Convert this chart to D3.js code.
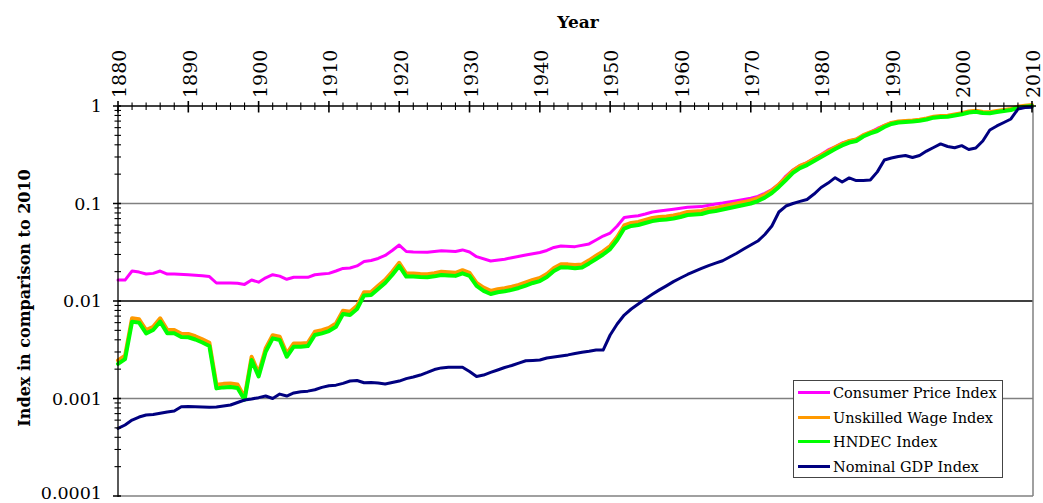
<!DOCTYPE html>
<html><head><meta charset="utf-8">
<script src="https://cdn.jsdelivr.net/npm/d3@7"></script>
<style>body{margin:0;background:#fff}svg{display:block}text{font-family:"DejaVu Serif",serif;fill:#000}</style>
</head><body><svg id="c" width="1043" height="503"></svg>
<script>
const seriesNames = ["Consumer Price Index","Unskilled Wage Index","HNDEC Index","Nominal GDP Index"];
const seriesColors = ["#FF00FF","#FF9900","#00FF00","#000080"];
const xTickYears = [1880,1890,1900,1910,1920,1930,1940,1950,1960,1970,1980,1990,2000,2010];
const yTickValues = [1,0.1,0.01,0.001,0.0001];
const yTickLabels = ["1","0.1","0.01","0.001","0.0001"];
const xTitle = "Year";
const yTitle = "Index in comparison to 2010";

const cpi = [[1880,0.0164],[1881,0.0164],[1882,0.0203],[1883,0.0198],[1884,0.0189],[1885,0.0192],[1886,0.0203],[1887,0.0189],[1888,0.0189],[1890,0.0186],[1892,0.0182],[1893,0.0178],[1894,0.0153],[1896,0.0153],[1897,0.0152],[1898,0.0148],[1899,0.0164],[1900,0.0156],[1901,0.0173],[1902,0.0186],[1903,0.0180],[1904,0.0167],[1905,0.0175],[1907,0.0175],[1908,0.0186],[1909,0.0189],[1910,0.0192],[1911,0.0203],[1912,0.0216],[1913,0.0218],[1914,0.0229],[1915,0.0254],[1916,0.0260],[1917,0.0273],[1918,0.0293],[1919,0.0330],[1920,0.0375],[1921,0.0322],[1922,0.0318],[1924,0.0317],[1926,0.0328],[1928,0.0322],[1929,0.0334],[1930,0.0318],[1931,0.0285],[1933,0.0257],[1935,0.0268],[1936,0.0278],[1938,0.0296],[1940,0.0314],[1941,0.0330],[1942,0.0354],[1943,0.0367],[1945,0.0361],[1947,0.0385],[1948,0.0422],[1949,0.0464],[1950,0.0498],[1951,0.0588],[1952,0.0719],[1953,0.0736],[1954,0.0750],[1955,0.0780],[1956,0.0818],[1957,0.0837],[1959,0.0872],[1961,0.0914],[1963,0.0929],[1965,0.0989],[1966,0.101],[1968,0.107],[1970,0.113],[1971,0.118],[1972,0.127],[1973,0.139],[1974,0.158],[1975,0.191],[1976,0.221],[1977,0.245],[1978,0.263],[1979,0.290],[1980,0.318],[1981,0.354],[1982,0.382],[1983,0.417],[1984,0.438],[1985,0.456],[1986,0.498],[1987,0.541],[1988,0.588],[1989,0.631],[1990,0.674],[1992,0.702],[1994,0.713],[1996,0.766],[1998,0.790],[2000,0.828],[2001,0.858],[2002,0.868],[2003,0.842],[2004,0.848],[2006,0.895],[2008,0.947],[2009,0.970],[2010,1.0]];

const wage = [[1880,0.00240],[1881,0.00268],[1882,0.00650],[1883,0.00635],[1884,0.00492],[1885,0.00530],[1886,0.00648],[1887,0.00494],[1888,0.00492],[1889,0.00450],[1890,0.00448],[1891,0.00425],[1892,0.00395],[1893,0.00364],[1894,0.00135],[1895,0.00138],[1896,0.00139],[1897,0.00136],[1898,0.00100],[1899,0.00262],[1900,0.00177],[1901,0.00318],[1902,0.00436],[1903,0.00420],[1904,0.00282],[1905,0.00358],[1906,0.00358],[1907,0.00363],[1908,0.00472],[1909,0.00491],[1910,0.00518],[1911,0.00574],[1912,0.00775],[1913,0.00758],[1914,0.00872],[1915,0.0120],[1916,0.0121],[1917,0.0140],[1918,0.0161],[1919,0.0195],[1920,0.0241],[1921,0.0187],[1922,0.0187],[1923,0.0185],[1924,0.0184],[1925,0.0188],[1926,0.0195],[1927,0.0193],[1928,0.0190],[1929,0.0202],[1930,0.0190],[1931,0.0150],[1932,0.0134],[1933,0.0124],[1934,0.0129],[1935,0.0132],[1936,0.0137],[1937,0.0143],[1938,0.0152],[1939,0.0161],[1940,0.0168],[1941,0.0185],[1942,0.0213],[1943,0.0233],[1944,0.0232],[1945,0.0228],[1946,0.0232],[1947,0.0255],[1948,0.0284],[1949,0.0315],[1950,0.0358],[1951,0.0443],[1952,0.0582],[1953,0.0617],[1954,0.0632],[1955,0.0662],[1956,0.0693],[1957,0.0711],[1958,0.0720],[1959,0.0737],[1960,0.0763],[1961,0.0800],[1962,0.0810],[1963,0.0820],[1964,0.0860],[1965,0.0880],[1966,0.0911],[1967,0.0945],[1968,0.0979],[1969,0.101],[1970,0.105],[1971,0.111],[1972,0.120],[1973,0.133],[1974,0.153],[1975,0.180],[1976,0.212],[1977,0.237],[1978,0.254],[1979,0.279],[1980,0.306],[1981,0.336],[1982,0.368],[1983,0.400],[1984,0.428],[1985,0.444],[1986,0.490],[1987,0.525],[1988,0.556],[1989,0.611],[1990,0.656],[1991,0.678],[1992,0.686],[1993,0.694],[1994,0.708],[1995,0.728],[1996,0.760],[1997,0.772],[1998,0.778],[1999,0.801],[2000,0.823],[2001,0.859],[2002,0.875],[2003,0.849],[2004,0.843],[2005,0.869],[2006,0.890],[2007,0.911],[2008,0.962],[2009,0.985],[2010,1.0]];

const hndec = [[1880,0.00226],[1881,0.00254],[1882,0.00614],[1883,0.00600],[1884,0.00466],[1885,0.00504],[1886,0.00614],[1887,0.00468],[1888,0.00466],[1889,0.00427],[1890,0.00425],[1891,0.00403],[1892,0.00375],[1893,0.00345],[1894,0.00127],[1895,0.00130],[1896,0.00131],[1897,0.00128],[1898,0.00097],[1899,0.00248],[1900,0.00168],[1901,0.00302],[1902,0.00414],[1903,0.00398],[1904,0.00268],[1905,0.00340],[1906,0.00340],[1907,0.00345],[1908,0.00448],[1909,0.00466],[1910,0.00492],[1911,0.00545],[1912,0.00736],[1913,0.00720],[1914,0.00828],[1915,0.0114],[1916,0.0115],[1917,0.0133],[1918,0.0153],[1919,0.0185],[1920,0.0229],[1921,0.0178],[1922,0.0178],[1923,0.0176],[1924,0.0175],[1925,0.0179],[1926,0.0185],[1927,0.0183],[1928,0.0181],[1929,0.0192],[1930,0.0181],[1931,0.0143],[1932,0.0127],[1933,0.0118],[1934,0.0123],[1935,0.0126],[1936,0.0130],[1937,0.0136],[1938,0.0144],[1939,0.0153],[1940,0.0160],[1941,0.0176],[1942,0.0203],[1943,0.0222],[1944,0.0221],[1945,0.0217],[1946,0.0221],[1947,0.0243],[1948,0.0270],[1949,0.0300],[1950,0.0341],[1951,0.0422],[1952,0.0554],[1953,0.0588],[1954,0.0602],[1955,0.0631],[1956,0.0660],[1957,0.0677],[1958,0.0686],[1959,0.0702],[1960,0.0727],[1961,0.0762],[1962,0.0771],[1963,0.0781],[1964,0.0819],[1965,0.0838],[1966,0.0868],[1967,0.0900],[1968,0.0932],[1969,0.0966],[1970,0.100],[1971,0.106],[1972,0.115],[1973,0.128],[1974,0.148],[1975,0.174],[1976,0.206],[1977,0.231],[1978,0.248],[1979,0.273],[1980,0.300],[1981,0.330],[1982,0.362],[1983,0.394],[1984,0.422],[1985,0.438],[1986,0.487],[1987,0.523],[1988,0.554],[1989,0.609],[1990,0.654],[1991,0.677],[1992,0.685],[1993,0.693],[1994,0.707],[1995,0.727],[1996,0.759],[1997,0.771],[1998,0.777],[1999,0.800],[2000,0.822],[2001,0.858],[2002,0.874],[2003,0.848],[2004,0.842],[2005,0.868],[2006,0.889],[2007,0.910],[2008,0.961],[2009,0.985],[2010,1.0]];

const gdp = [[1880,0.000494],[1881,0.000535],[1882,0.000601],[1883,0.000646],[1884,0.000677],[1885,0.000685],[1886,0.000705],[1887,0.000728],[1888,0.000745],[1889,0.000824],[1890,0.000828],[1891,0.000824],[1892,0.000818],[1893,0.000812],[1894,0.000818],[1895,0.000838],[1896,0.000857],[1897,0.000910],[1898,0.000966],[1899,0.000989],[1900,0.00102],[1901,0.00106],[1902,0.00100],[1903,0.00111],[1904,0.00106],[1905,0.00114],[1906,0.00117],[1907,0.00119],[1908,0.00123],[1909,0.00130],[1910,0.00135],[1911,0.00137],[1912,0.00143],[1913,0.00151],[1914,0.00153],[1915,0.00145],[1916,0.00146],[1917,0.00144],[1918,0.00141],[1919,0.00146],[1920,0.00151],[1921,0.00160],[1922,0.00166],[1923,0.00174],[1924,0.00185],[1925,0.00198],[1926,0.00206],[1927,0.00209],[1928,0.00209],[1929,0.00209],[1930,0.00189],[1931,0.00168],[1932,0.00174],[1933,0.00185],[1934,0.00196],[1935,0.00208],[1936,0.00218],[1937,0.00231],[1938,0.00244],[1939,0.00246],[1940,0.00248],[1941,0.00260],[1942,0.00266],[1943,0.00273],[1944,0.00280],[1945,0.00290],[1946,0.00298],[1947,0.00305],[1948,0.00314],[1949,0.00314],[1950,0.00448],[1951,0.00581],[1952,0.00718],[1953,0.00828],[1954,0.00931],[1955,0.0105],[1956,0.0117],[1957,0.0130],[1958,0.0143],[1959,0.0158],[1960,0.0172],[1961,0.0187],[1962,0.0201],[1963,0.0216],[1964,0.0231],[1965,0.0245],[1966,0.0259],[1967,0.0283],[1968,0.0309],[1969,0.0341],[1970,0.0375],[1971,0.0412],[1972,0.0481],[1973,0.0588],[1974,0.0818],[1975,0.0942],[1976,0.100],[1977,0.105],[1978,0.110],[1979,0.125],[1980,0.146],[1981,0.162],[1982,0.184],[1983,0.166],[1984,0.183],[1985,0.172],[1986,0.172],[1987,0.174],[1988,0.211],[1989,0.279],[1990,0.293],[1991,0.304],[1992,0.311],[1993,0.296],[1994,0.311],[1995,0.345],[1996,0.375],[1997,0.408],[1998,0.384],[1999,0.373],[2000,0.392],[2001,0.358],[2002,0.371],[2003,0.438],[2004,0.567],[2005,0.624],[2006,0.677],[2007,0.736],[2008,0.930],[2009,0.965],[2010,0.970]];

const allSeries = [cpi, wage, hndec, gdp];
const lineWidths = [3, 4, 4, 3];
const lineOffsets = [0, -1, 0, 0];

const svg = d3.select("#c");
const L = 118, R = 1033, T = 106, B = 496;
const x = d3.scaleLinear().domain([1880, 2010]).range([L, 1032]);
const y = d3.scaleLog().domain([0.0001, 1]).range([B, T]);

// gridlines
const gridColors = {"0.1":"#808080","0.01":"#000","0.001":"#808080"};
[0.1,0.01,0.001].forEach(v => {
  svg.append("line").attr("x1", L).attr("x2", R).attr("y1", y(v)).attr("y2", y(v))
    .attr("stroke", gridColors[String(v)]).attr("stroke-width", 1.3);
});
// frame right/bottom
svg.append("line").attr("x1", R).attr("x2", R).attr("y1", T).attr("y2", B).attr("stroke", "#808080").attr("stroke-width", 1.5);
svg.append("line").attr("x1", L).attr("x2", R).attr("y1", B).attr("y2", B).attr("stroke", "#808080").attr("stroke-width", 1.5);

// lines
const line = d3.line().x(d => x(d[0])).y(d => y(d[1])).curve(d3.curveLinear);
allSeries.forEach((s, i) => {
  svg.append("path").datum(s).attr("d", line).attr("fill", "none")
    .attr("stroke", seriesColors[i]).attr("stroke-width", lineWidths[i])
    .attr("stroke-linejoin", "round").attr("stroke-linecap", "round")
    .attr("transform", `translate(0,${lineOffsets[i]})`);
});

// x axis (top)
const xAxisG = svg.append("g");
xAxisG.append("line").attr("x1", L).attr("x2", 1036).attr("y1", T).attr("y2", T).attr("stroke", "#000").attr("stroke-width", 1.3);
d3.range(1880, 2011, 2).forEach(yr => {
  const major = yr % 10 === 0;
  xAxisG.append("line").attr("x1", x(yr)).attr("x2", x(yr))
    .attr("y1", major ? T - 5 : T - 3.5).attr("y2", major ? T + 6.5 : T + 4)
    .attr("stroke", "#000").attr("stroke-width", major ? 1.6 : 1.1);
});
xTickYears.forEach(yr => {
  xAxisG.append("text").attr("transform", `translate(${x(yr) + 1.5},98) rotate(-90)`)
    .attr("dy", "0.36em").attr("text-anchor", "start")
    .style("font-size", "19px").text(yr);
});
svg.append("text").attr("x", 578).attr("y", 28).attr("text-anchor", "middle")
  .style("font-size", "17px").style("font-weight", "bold").text(xTitle);

// y axis (left)
const yAxisG = svg.append("g");
yAxisG.append("line").attr("x1", L).attr("x2", L).attr("y1", T).attr("y2", B + 1).attr("stroke", "#000").attr("stroke-width", 1.3);
for (let e = -4; e < 0; e++) {
  for (let m = 2; m <= 9; m++) {
    const v = m * Math.pow(10, e);
    yAxisG.append("line").attr("x1", L - 3.5).attr("x2", L + 3).attr("y1", y(v)).attr("y2", y(v)).attr("stroke", "#000").attr("stroke-width", 1.1);
  }
}
yTickValues.forEach((v, i) => {
  yAxisG.append("line").attr("x1", L - 5).attr("x2", L + 3).attr("y1", y(v)).attr("y2", y(v)).attr("stroke", "#000").attr("stroke-width", 1.5);
  yAxisG.append("text").attr("x", 102).attr("y", Math.min(y(v), 493)).attr("dy", "0.36em")
    .attr("text-anchor", "end").style("font-size", "17.5px").text(yTickLabels[i]);
});
svg.append("text").attr("transform", "translate(24,298) rotate(-90)").attr("dy", "0.36em")
  .attr("text-anchor", "middle").style("font-size", "16px").style("font-weight", "bold").text(yTitle);

// legend
const lg = svg.append("g");
lg.append("rect").attr("x", 793.5).attr("y", 380.5).attr("width", 209).attr("height", 97)
  .attr("fill", "#fff").attr("stroke", "#444").attr("stroke-width", 1);
const rowY = [392.5, 417.5, 441.5, 466.5];
seriesNames.forEach((n, i) => {
  lg.append("line").attr("x1", 798).attr("x2", 830).attr("y1", rowY[i]).attr("y2", rowY[i])
    .attr("stroke", seriesColors[i]).attr("stroke-width", 3);
  lg.append("text").attr("x", 833).attr("y", rowY[i]).attr("dy", "0.36em")
    .style("font-size", "14.5px").text(n);
});
</script></body></html>
